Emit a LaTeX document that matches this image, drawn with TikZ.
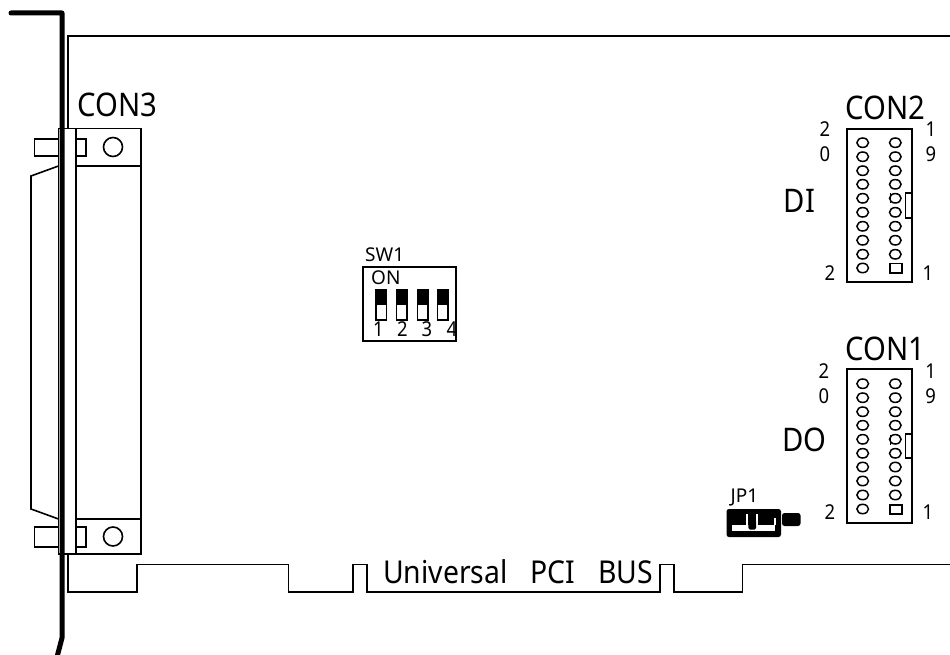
\documentclass[tikz,border=0pt]{standalone}
\usepackage{fontspec}
\setmainfont{Noto Sans}
\newfontfamily\narrowfont[FakeStretch=0.9]{Noto Sans}
\tikzset{
  x=1pt,y=-1pt,
  line/.style={draw=black,line width=1.6pt,line join=miter},
  pin/.style={draw=black,line width=1.5pt,fill=white},
  big/.style={inner sep=0pt,font=\narrowfont\fontsize{32.5}{33}\selectfont,anchor=base west},
  buslabel/.style={inner sep=0pt,font=\narrowfont\fontsize{31.5}{32}\selectfont,anchor=base west},
  small/.style={inner sep=0pt,font=\narrowfont\fontsize{20.5}{21}\selectfont,anchor=base},
  mid/.style={inner sep=0pt,font=\fontsize{19}{19}\selectfont,anchor=base west},
}
\begin{document}
\begin{tikzpicture}
\useasboundingbox[fill=white] (0,0) rectangle (950,655);
% PCB outline
\draw[line] (68,128) -- (68,36) -- (950,36);
\draw[line] (68,554) -- (68,592) -- (137,592) -- (137,564.5) -- (288.5,564.5) -- (288.5,592) -- (353,592) -- (353,564.5) -- (367,564.5) -- (367,592) -- (660,592) -- (660,564.5) -- (674,564.5) -- (674,592) -- (742.5,592) -- (742.5,564.5) -- (950,564.5);
% D-sub shell
\draw[line] (58.5,166) -- (31,176) -- (31,509) -- (58.5,519);
% mounting tabs
\draw[line] (34.5,139) rectangle (86,156);
\draw[line] (34.5,527) rectangle (86,547);
% flange
\draw[line,fill=white] (58.5,128.5) rectangle (76,554);
\draw[line] (76,128.5) -- (141,128.5) -- (141,554) -- (76,554);
\draw[line] (76,166) -- (141,166);
\draw[line] (76,519) -- (141,519);
\node[draw,line width=1.6pt,circle,minimum size=19pt,inner sep=0pt] (holeA) at (113,147) {};
\node[draw,line width=1.6pt,circle,minimum size=19pt,inner sep=0pt] (holeB) at (113,536.5) {};
% bracket
\draw[line width=5pt,line cap=round,line join=round] (11,13) -- (62,13) -- (62,638) -- (57,657);
\node[big] (con3) at (77.5,116.5) {CON3};
% SW1
\node[mid] (sw) at (365,261) {SW1};
\draw[line] (363,267) rectangle (456,341);
\node[mid] (on) at (371,284) {ON};
\foreach \xa/\n/\xt in {376/1/378.5,396.5/2/402.5,417.5/3/427,437.5/4/452}{
  \draw[line,fill=white] (\xa,290) rectangle (\xa+10.5,320);
  \fill[black] (\xa,290) rectangle (\xa+10.5,305);
  \node[small] at (\xt,336) {\n};
}
% CON2
\node[big] (con2) at (845.5,120) {CON2};
\draw[line] (847,129) rectangle (912,282);
\draw[line] (912,193) -- (905.5,193) -- (905.5,218) -- (912,218);
\foreach \yy in {142.7,156.7,170.7,184.3,198.3,212.3,226.3,240.3,254.3,268}
  \draw[pin] (862.7,\yy) ellipse (5.8 and 4.7);
\foreach \yy in {142.7,156.7,170.7,184.3,198.3,212.3,226.3,240.3,254.3}
  \draw[pin] (895.3,\yy) ellipse (5.8 and 4.7);
\draw[line] (890,263.3) rectangle (902,272.7);
\draw[line width=1.8pt] (890.5,193.5) -- (890.5,203.5);
\node[big] (di) at (783.5,212) {DI};
\node[small] at (825,137) {2};
\node[small] at (825,161.5) {0};
\node[small] at (931,137) {1};
\node[small] at (931,161.5) {9};
\node[small] at (830,280) {2};
\node[small] at (928,280) {1};
% CON1
\node[big] (con1) at (845.5,360) {CON1};
\draw[line] (847,369) rectangle (912,522.7);
\draw[line] (912,434) -- (905.5,434) -- (905.5,457.7) -- (912,457.7);
\foreach \yy in {383.7,397.7,411.7,425.3,439.3,453.3,467,481,495,509}
  \draw[pin] (862.7,\yy) ellipse (5.8 and 4.7);
\foreach \yy in {383.7,397.7,411.7,425.3,439.3,453.3,467,481,495}
  \draw[pin] (895.3,\yy) ellipse (5.8 and 4.7);
\draw[line] (890,505) rectangle (902,514);
\draw[line width=1.8pt] (890.5,434.5) -- (890.5,444.5);
\node[big] (do) at (782,451.7) {DO};
\node[small] at (824,378.5) {2};
\node[small] at (824,403) {0};
\node[small] at (930.7,378.5) {1};
\node[small] at (930.7,403) {9};
\node[small] at (830,519.5) {2};
\node[small] at (928,519.5) {1};
% JP1
\node[mid] (jp) at (730.5,502.7) {JP1};
\fill[black,rounded corners=2.5pt] (726.5,509) rectangle (781,537);
\fill[black,rounded corners=2.5pt] (782,513) rectangle (800.5,526);
\fill[white] (732,525) rectangle (775,531);
\fill[white] (746.3,514) rectangle (748.3,525);
\fill[white] (756,514) rectangle (758,525);
\fill[white] (774,518) rectangle (775.5,525);
\fill[black,rounded corners=1.5pt] (748.3,520) rectangle (756,529.5);
% bus label
\node[buslabel] (bus) at (383,583) {Universal\hspace{23pt}PCI\hspace{23pt}BUS};
\end{tikzpicture}
\end{document}
